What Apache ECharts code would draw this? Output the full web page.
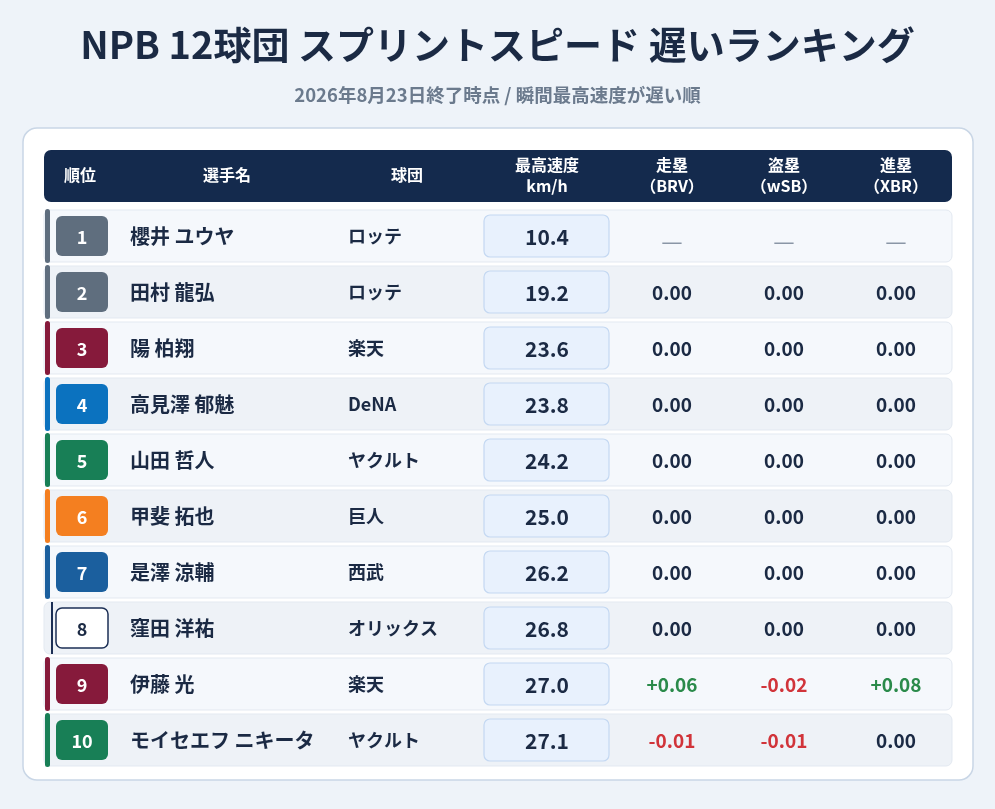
<html>
<head>
    <meta charset="utf-8">
    <script src="https://cdn.jsdelivr.net/npm/echarts@6.0.0/dist/echarts.min.js"></script>
    <style>
        html, body { margin: 0; padding: 0; background: #eef3f9; }
        #main { width: 995px; height: 809px; }
    </style>
</head>
<body>
    <div id="main"></div>
    <script>
        // ランキングデータ
        var ranks = ['1', '2', '3', '4', '5', '6', '7', '8', '9', '10'];
        var players = ['櫻井 ユウヤ', '田村 龍弘', '陽 柏翔', '高見澤 郁魅', '山田 哲人', '甲斐 拓也', '是澤 涼輔', '窪田 洋祐', '伊藤 光', 'モイセエフ ニキータ'];
        var teams = ['ロッテ', 'ロッテ', '楽天', 'DeNA', 'ヤクルト', '巨人', '西武', 'オリックス', '楽天', 'ヤクルト'];
        var speeds = [10.4, 19.2, 23.6, 23.8, 24.2, 25.0, 26.2, 26.8, 27.0, 27.1];
        var brv = [null, 0, 0, 0, 0, 0, 0, 0, 0.06, -0.01];
        var wsb = [null, 0, 0, 0, 0, 0, 0, 0, -0.02, -0.01];
        var xbr = [null, 0, 0, 0, 0, 0, 0, 0, 0.08, 0];
        var headers = ['順位', '選手名', '球団', '最高速度\nkm/h', '走塁\n（BRV）', '盗塁\n（wSB）', '進塁\n（XBR）'];

        var teamColor = {
            'ロッテ': '#5f6e7e',
            '楽天': '#861a3b',
            'DeNA': '#0b72bf',
            'ヤクルト': '#187f56',
            '巨人': '#f47f20',
            '西武': '#1b5f9e',
            'オリックス': '#ffffff'
        };

        var FONT = '"Noto Sans CJK JP", "Noto Sans", sans-serif';
        var DARK = '#1b2a44';
        // 列の位置 (表の左端からの距離)
        var colX = [38, 86, 304, 503, 628, 740, 852];
        var headX = [36, 183, 363, 503, 628, 740, 852];

        function fmt(v) {
            if (v === null) return { t: '—', c: '#8a96a6', w: 'normal', s: 24 };
            if (v > 0) return { t: '+' + v.toFixed(2), c: '#2a8a4a', w: 'bold', s: 19 };
            if (v < 0) return { t: v.toFixed(2), c: '#d1343a', w: 'bold', s: 19 };
            return { t: v.toFixed(2), c: DARK, w: 'bold', s: 19 };
        }

        function txt(x, y, s, size, color, weight, align) {
            return {
                type: 'text',
                style: {
                    x: x, y: y, text: s, fill: color,
                    font: weight + ' ' + size + 'px ' + FONT,
                    align: align || 'center', verticalAlign: 'middle'
                }
            };
        }

        var headerGraphics = [];
        for (var h = 0; h < headers.length; h++) {
            headerGraphics.push({
                type: 'text',
                style: {
                    x: 44 + headX[h], y: 175, text: headers[h], fill: '#ffffff',
                    font: 'bold 16px ' + FONT, lineHeight: 21,
                    align: 'center', verticalAlign: 'middle'
                }
            });
        }

        var chart = echarts.init(document.getElementById('main'));
        var option = {
            backgroundColor: '#eef3f9',
            title: [{
                text: 'NPB 12球団 スプリントスピード 遅いランキング',
                left: 'center', top: 21,
                textStyle: { fontFamily: FONT, fontSize: 38, fontWeight: 'bold', color: DARK }
            }, {
                text: '2026年8月23日終了時点 / 瞬間最高速度が遅い順',
                left: 'center', top: 81,
                textStyle: { fontFamily: FONT, fontSize: 18.5, fontWeight: 'bold', color: '#6b7a8d' }
            }],
            graphic: [{
                type: 'rect', z: -10,
                shape: { x: 23, y: 128, width: 950, height: 652, r: 14 },
                style: { fill: '#ffffff', stroke: '#c9d6e6', lineWidth: 1.5 }
            }, {
                type: 'rect', z: -5,
                shape: { x: 44, y: 150, width: 908, height: 52, r: 7 },
                style: { fill: '#142a4d' }
            }].concat(headerGraphics),
            grid: { left: 44, right: 43, top: 208, height: 560 },
            xAxis: { type: 'value', min: 0, max: 908, show: false },
            yAxis: { type: 'category', data: ranks, inverse: true, show: false },
            series: [{
                type: 'custom',
                silent: true,
                data: ranks.map(function (r, i) { return [0, i]; }),
                encode: { x: 0, y: 1 },
                renderItem: function (params, api) {
                    var i = api.value(1);
                    var cs = params.coordSys;
                    var cy = api.coord([0, i])[1];
                    var x0 = cs.x;
                    var col = teamColor[teams[i]];
                    var isWhite = col === '#ffffff';
                    var kids = [];
                    kids.push({
                        type: 'rect',
                        shape: { x: x0, y: cy - 26, width: cs.width, height: 52, r: 6 },
                        style: { fill: i % 2 === 0 ? '#f5f8fc' : '#eef2f7', stroke: '#e3e9f1', lineWidth: 1 }
                    });
                    if (isWhite) {
                        kids.push({ type: 'rect', shape: { x: x0 + 7, y: cy - 26, width: 2, height: 52 }, style: { fill: '#1c2f55' } });
                    } else {
                        kids.push({ type: 'rect', shape: { x: x0 + 1, y: cy - 27, width: 5, height: 54, r: 2.5 }, style: { fill: col } });
                    }
                    kids.push({
                        type: 'rect',
                        shape: { x: x0 + 12, y: cy - 20, width: 52, height: 40, r: 6 },
                        style: isWhite ? { fill: '#ffffff', stroke: '#1c2f55', lineWidth: 1.5 } : { fill: col }
                    });
                    kids.push(txt(x0 + colX[0], cy + 1, ranks[i], 18, isWhite ? DARK : '#ffffff', 'bold'));
                    kids.push(txt(x0 + colX[1], cy, players[i], 20, DARK, 'bold', 'left'));
                    kids.push(txt(x0 + colX[2], cy, teams[i], 18, DARK, 'bold', 'left'));
                    kids.push({
                        type: 'rect',
                        shape: { x: x0 + 440, y: cy - 21, width: 125, height: 42, r: 6 },
                        style: { fill: '#e8f1fd', stroke: '#c4d8f2', lineWidth: 1.2 }
                    });
                    kids.push(txt(x0 + colX[3], cy + 1, speeds[i].toFixed(1), 21, DARK, 'bold'));
                    var vals = [brv[i], wsb[i], xbr[i]];
                    for (var k = 0; k < 3; k++) {
                        var f = fmt(vals[k]);
                        kids.push(txt(x0 + colX[4 + k], cy + (vals[k] === null ? 5 : 1), f.t, f.s, f.c, f.w));
                    }
                    return { type: 'group', children: kids };
                }
            }]
        };
        chart.setOption(option);
        window.onresize = chart.resize;
    </script>
</body>
</html>
